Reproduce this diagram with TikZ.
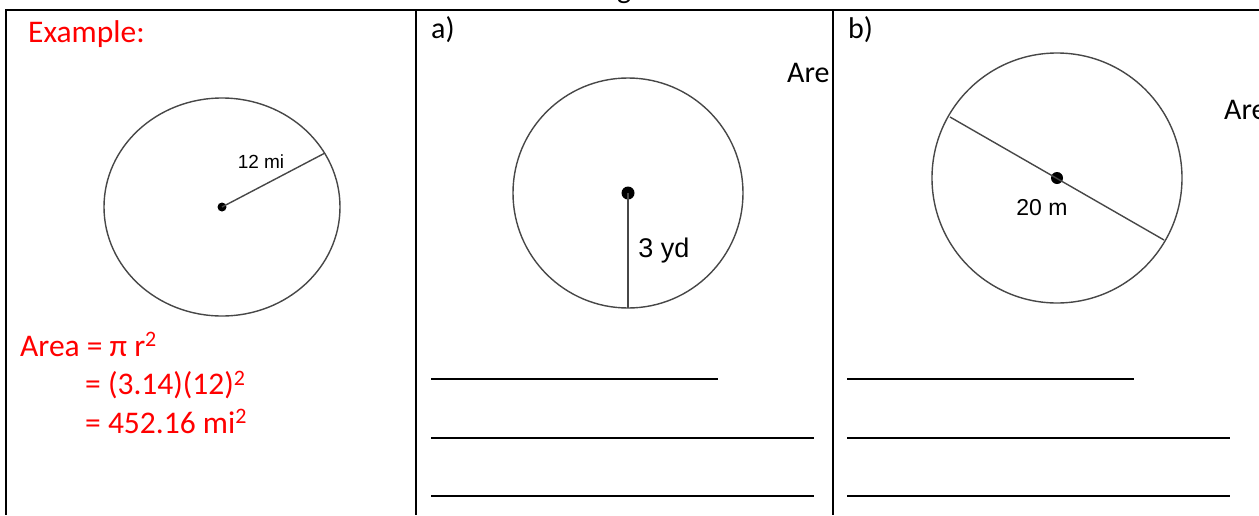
\documentclass[tikz,border=0pt]{standalone}
\usepackage{fontspec}
\setmainfont{Carlito}
\newfontfamily\helv{Liberation Sans}
\begin{document}
\begin{tikzpicture}[x=1pt,y=-1pt,
  cell/.style={line width=2pt, draw=black},
  fig/.style={line width=1.4pt, draw=black!72},
  ans/.style={line width=2pt, draw=black},
  redtxt/.style={text=red, font=\fontsize{31.5}{36}\selectfont, inner sep=0pt, anchor=base west},
  blktxt/.style={text=black, font=\fontsize{30}{35}\selectfont, inner sep=0pt, anchor=base west},
  lbl/.style={inner sep=0pt},
  dot/.style={circle, fill=black, inner sep=0pt}]
\useasboundingbox (0,0) rectangle (1259,515);
\begin{scope}
\clip (0,0) rectangle (1259,515);
% partial heading letter
\node[blktxt] (hg) at (617,-1.5) {g};
% table
\draw[cell] (5,10) -- (1259,10);
\draw[cell] (6,10) -- (6,515);
\draw[cell] (416,10) -- (416,515);
\draw[cell] (833,10) -- (833,515);
% Example cell
\node[redtxt] (ex) at (28,42) {Example:};
\draw[fig] (222,207) ellipse [x radius=118pt, y radius=109pt];
\node[dot, minimum size=9pt] (c0) at (222,207) {};
\coordinate (r0) at (325,153);
\draw[fig] (c0.center) -- (r0);
\node[lbl, font=\helv\fontsize{19}{22}\selectfont] (l0) at (261,162) {12 mi};
\node[redtxt] (f1) at (20,356) {Area = π r\textsuperscript{2}};
\node[redtxt] (f2) at (85,394.5) {= (3.14)(12)\textsuperscript{2}};
\node[redtxt] (f3) at (85,433) {= 452.16 mi\textsuperscript{2}};
% a) cell
\node[blktxt] (la) at (431,38) {a)};
\begin{scope}
\clip (416,10) rectangle (832,515);
\node[blktxt] (area) at (787,82) {Are};
\end{scope}
\draw[fig] (628,193) circle [radius=115pt];
\node[dot, minimum size=13pt] (c1) at (628,193) {};
\coordinate (r1) at (628,308);
\draw[fig] (c1.center) -- (r1);
\node[lbl, font=\helv\fontsize{27}{30}\selectfont] (l1) at (664,251) {3 yd};
\draw[ans] (431,379) -- (718,379);
\draw[ans] (431,438) -- (814,438);
\draw[ans] (431,496) -- (814,496);
% b) cell
\node[blktxt] (lb) at (848,38) {b)};
\node[blktxt] (areb) at (1224,119) {Are};
\draw[fig] (1057,178) circle [radius=125pt];
\node[dot, minimum size=12pt] (c2) at (1057,178) {};
\coordinate (d1) at (950,117);
\coordinate (d2) at (1164,240);
\draw[fig] (d1) -- (d2);
\node[lbl, font=\helv\fontsize{23}{26}\selectfont] (l2) at (1042,208) {20 m};
\draw[ans] (847,379) -- (1134,379);
\draw[ans] (847,438) -- (1230,438);
\draw[ans] (847,496) -- (1230,496);
\end{scope}
\end{tikzpicture}
\end{document}
